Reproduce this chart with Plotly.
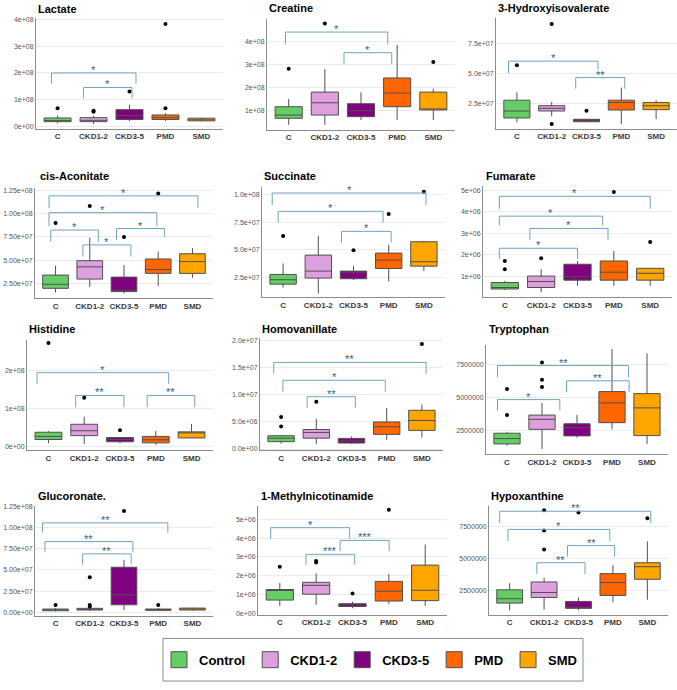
import plotly.graph_objects as go

# ---------------- data ----------------
groups = ["C", "CKD1-2", "CKD3-5", "PMD", "SMD"]
legend_names = ["Control", "CKD1-2", "CKD3-5", "PMD", "SMD"]
colors = ["#66CC66", "#DDA0DD", "#800080", "#FF6600", "#FFA500"]

metabolites = ["Lactate", "Creatine", "3-Hydroxyisovalerate",
               "cis-Aconitate", "Succinate", "Fumarate",
               "Histidine", "Homovanillate", "Tryptophan",
               "Glucoronate.", "1-Methylnicotinamide", "Hypoxanthine"]
units = [1e8, 1e8, 1e7, 1e7, 1e7, 1e6, 1e8, 1e6, 1e6, 1e7, 1e6, 1e6]

q1 = [[0.18, 0.18, 0.26, 0.26, 0.21],
      [0.67, 0.81, 0.74, 1.17, 1.03],
      [1.27, 1.85, 0.96, 1.93, 1.96],
      [2.00, 2.99, 1.65, 3.60, 3.60],
      [1.90, 2.45, 2.39, 3.32, 3.53],
      [0.42, 0.49, 0.83, 0.83, 0.83],
      [0.18, 0.28, 0.12, 0.09, 0.22],
      [1.35, 2.00, 1.10, 2.70, 3.43],
      [1.53, 2.62, 2.13, 3.12, 2.15],
      [0.19, 0.27, 0.89, 0.23, 0.27],
      [0.72, 1.03, 0.38, 0.67, 0.69],
      [1.49, 1.93, 1.08, 2.09, 3.35]]
median = [[0.22, 0.23, 0.41, 0.33, 0.25],
          [0.81, 1.34, 1.00, 1.76, 1.03],
          [1.85, 2.07, 1.05, 2.56, 2.29],
          [2.43, 4.30, 1.80, 4.01, 4.86],
          [2.30, 3.08, 2.99, 4.08, 3.93],
          [0.49, 0.77, 1.00, 1.20, 1.15],
          [0.26, 0.41, 0.18, 0.17, 0.36],
          [2.00, 3.06, 1.50, 4.10, 5.26],
          [1.93, 3.37, 2.75, 4.60, 4.23],
          [0.27, 0.35, 2.06, 0.31, 0.39],
          [1.28, 1.50, 0.50, 1.19, 1.24],
          [1.83, 2.32, 1.10, 3.09, 4.33]]
q3 = [[0.32, 0.33, 0.63, 0.43, 0.31],
      [1.17, 1.80, 1.30, 2.41, 1.80],
      [2.75, 2.29, 1.16, 2.75, 2.56],
      [3.42, 4.96, 3.20, 5.14, 5.70],
      [2.78, 4.53, 3.08, 4.71, 5.74],
      [0.72, 1.02, 1.57, 1.72, 1.38],
      [0.37, 0.58, 0.23, 0.26, 0.38],
      [2.45, 3.60, 1.96, 5.00, 7.15],
      [2.33, 3.69, 3.04, 5.45, 5.30],
      [0.39, 0.47, 5.32, 0.39, 0.50],
      [1.28, 1.66, 0.53, 1.71, 2.57],
      [2.53, 3.14, 1.62, 3.79, 4.64]]
lower = [[0.12, 0.10, 0.20, 0.20, 0.19],
         [0.39, 0.39, 0.60, 0.60, 0.60],
         [0.90, 1.40, 0.96, 0.77, 1.18],
         [1.55, 2.15, 1.44, 2.25, 3.13],
         [1.60, 1.06, 2.27, 2.14, 3.08],
         [0.37, 0.26, 0.57, 0.57, 0.57],
         [0.08, 0.06, 0.08, 0.04, 0.22],
         [1.00, 0.90, 0.97, 1.70, 2.14],
         [1.39, 1.14, 2.00, 2.62, 1.51],
         [0.10, 0.15, 0.27, 0.15, 0.20],
         [0.41, 0.47, 0.29, 0.52, 0.41],
         [0.93, 0.98, 0.93, 1.55, 1.75]]
upper = [[0.41, 0.40, 0.81, 0.50, 0.33],
         [1.50, 2.79, 1.79, 3.83, 1.95],
         [3.40, 2.60, 1.16, 3.80, 2.75],
         [4.44, 7.43, 4.50, 5.95, 6.30],
         [3.78, 6.25, 3.53, 5.47, 5.83],
         [0.80, 1.34, 1.72, 2.18, 1.38],
         [0.40, 0.78, 0.23, 0.40, 0.59],
         [2.55, 5.60, 2.30, 7.58, 8.20],
         [2.43, 4.60, 3.69, 8.64, 8.32],
         [0.50, 0.55, 6.20, 0.50, 0.55],
         [1.62, 2.14, 0.64, 2.10, 3.66],
         [3.04, 3.48, 1.93, 4.46, 6.31]]
outliers = [
    [[0.68], [0.55, 0.59], [1.31], [0.68, 3.83], []],
    [[2.81], [4.76], [], [], [3.10]],
    [[5.65], [9.10, 0.77], [1.87], [], []],
    [[9.00], [10.8], [7.50], [12.15], []],
    [[6.25], [], [4.98], [8.25], [10.27]],
    [[1.72, 1.34], [1.85], [], [4.92], [2.60]],
    [[2.72], [1.28], [0.42], [], []],
    [[5.93, 4.16], [8.75], [], [], [19.4]],
    [[5.64, 3.69], [7.62, 6.34, 5.79], [], [], []],
    [[0.85], [0.85, 0.70, 4.15], [11.96], [0.85], []],
    [[2.48], [2.79, 2.71], [1.07], [5.50], []],
    [[], [5.67, 7.16, 8.74], [8.56], [], [8.12]],
]
# brackets: (x start, x end, bar height, left tip, right tip, label)
brackets = [
    [(-0.17, 2.18, 2.00, 1.60, 1.60, "*"), (0.72, 2.07, 1.46, 1.05, 1.05, "*")],
    [(-0.09, 2.74, 4.39, 3.86, 3.86, "*"), (1.53, 2.85, 3.50, 3.00, 3.00, "*")],
    [(-0.24, 2.33, 6.00, 5.00, 5.30, "*"), (1.69, 3.10, 4.63, 3.70, 3.70, "**")],
    [(-0.19, 4.16, 11.9, 10.6, 10.6, "*"), (-0.19, 2.96, 10.1, 8.66, 8.66, "*"),
     (-0.14, 1.25, 8.24, 7.00, 7.00, "*"), (1.78, 3.18, 8.40, 7.18, 7.50, "*"),
     (0.80, 2.20, 6.65, 5.40, 5.40, "*")],
    [(-0.31, 4.06, 10.15, 9.06, 9.06, "*"), (-0.14, 2.84, 8.49, 7.49, 7.49, "*"),
     (1.66, 3.07, 6.68, 5.68, 5.68, "*")],
    [(-0.15, 4.00, 4.72, 4.14, 4.14, "*"), (-0.15, 2.69, 3.80, 3.37, 3.37, "*"),
     (0.69, 2.84, 3.23, 2.68, 2.68, "*"), (-0.15, 2.00, 2.31, 1.82, 1.82, "*")],
    [(-0.32, 3.36, 1.94, 1.65, 1.65, "*"), (0.76, 2.11, 1.34, 1.03, 1.03, "**"),
     (2.76, 4.09, 1.34, 1.03, 1.03, "**")],
    [(-0.21, 4.12, 16.0, 13.9, 13.9, "**"), (0.05, 2.96, 12.7, 10.6, 10.6, "*"),
     (0.74, 2.11, 9.66, 7.65, 7.65, "**")],
    [(-0.27, 3.47, 7.40, 6.53, 6.53, "**"), (1.70, 3.49, 6.26, 5.40, 5.40, "**"),
     (-0.27, 1.51, 4.85, 4.03, 4.03, "*")],
    [(-0.38, 3.28, 10.56, 9.40, 9.40, "**"), (-0.31, 2.26, 8.35, 7.10, 7.10, "**"),
     (0.79, 2.21, 6.90, 5.63, 5.63, "**")],
    [(-0.25, 1.92, 4.55, 3.97, 3.97, "*"), (1.66, 3.01, 3.88, 3.31, 3.31, "***"),
     (0.72, 2.06, 3.14, 2.59, 2.59, "***")],
    [(-0.29, 4.10, 8.66, 7.73, 7.73, "**"), (-0.05, 2.91, 7.24, 6.34, 6.34, "*"),
     (1.68, 3.05, 5.98, 5.10, 5.10, "**"), (0.79, 2.19, 4.64, 3.76, 3.76, "**")],
]
y_ranges = [(-0.09, 4.06), (0.17, 4.96), (0.36, 9.6), (0.92, 12.7),
            (0.70, 10.66), (0.03, 5.18), (-0.10, 2.80), (-0.2, 20.5),
            (0.77, 8.94), (-0.39, 12.6), (-0.05, 5.72), (0.59, 9.1)]
tick_vals = [[0, 1, 2, 3, 4], [1, 2, 3, 4], [2.5, 5.0, 7.5],
             [2.5, 5.0, 7.5, 10.0, 12.5], [2.5, 5.0, 7.5, 10.0], [1, 2, 3, 4, 5],
             [0, 1, 2], [0, 5, 10, 15, 20], [2.5, 5.0, 7.5],
             [0, 2.5, 5.0, 7.5, 10.0, 12.5], [0, 1, 2, 3, 4, 5], [2.5, 5.0, 7.5]]
tick_text = [["0e+00", "1e+08", "2e+08", "3e+08", "4e+08"],
             ["1e+08", "2e+08", "3e+08", "4e+08"],
             ["2.5e+07", "5.0e+07", "7.5e+07"],
             ["2.50e+07", "5.00e+07", "7.50e+07", "1.00e+08", "1.25e+08"],
             ["2.5e+07", "5.0e+07", "7.5e+07", "1.0e+08"],
             ["1e+06", "2e+06", "3e+06", "4e+06", "5e+06"],
             ["0e+00", "1e+08", "2e+08"],
             ["0.0e+00", "5.0e+06", "1.0e+07", "1.5e+07", "2.0e+07"],
             ["2500000", "5000000", "7500000"],
             ["0.00e+00", "2.50e+07", "5.00e+07", "7.50e+07", "1.00e+08", "1.25e+08"],
             ["0e+00", "1e+06", "2e+06", "3e+06", "4e+06", "5e+06"],
             ["2500000", "5000000", "7500000"]]

# ---------------- layout constants ----------------
W, H = 677, 690
FONT = "Liberation Sans, Arial, sans-serif"
# panel plot areas in pixels: left, right, top, bottom
panel_px = [(36, 223, 15, 127), (267, 455, 16, 128), (496, 677, 15, 127),
            (35, 213, 187, 298), (262, 445, 186, 297), (483, 672, 185, 297),
            (27, 213, 340, 451), (260, 443, 338, 451), (486, 668, 345, 455),
            (35, 213, 507, 618), (258, 447, 507, 617), (489, 668, 507, 617)]
title_px = [(36, 6), (267, 5), (496, 5), (38, 175), (262, 175), (484, 175),
            (27, 329), (260, 329), (487, 329), (36, 497), (259, 497), (489, 497)]
legend_box_px = (163, 641, 583, 684)
BRACKET_COLOR = "#6FA3C0"
STAR_COLOR = "#2A5F8C"

fig = go.Figure()
layout = dict(width=W, height=H, margin=dict(l=0, r=0, t=0, b=0),
              paper_bgcolor="white", plot_bgcolor="white",
              showlegend=True, annotations=[], shapes=[])

for i in range(12):
    ax = "" if i == 0 else str(i + 1)
    xr, yr = "x" + ax, "y" + ax
    u = units[i]
    for g in range(5):
        fig.add_trace(go.Box(
            x=[g], q1=[q1[i][g] * u], median=[median[i][g] * u], q3=[q3[i][g] * u],
            lowerfence=[lower[i][g] * u], upperfence=[upper[i][g] * u],
            width=0.75, fillcolor=colors[g], line=dict(color="#505050", width=1),
            whiskerwidth=0, boxpoints=False, name=groups[g], showlegend=False,
            xaxis=xr, yaxis=yr, hoverinfo="skip"))
    ox, oy = [], []
    for g in range(5):
        for v in outliers[i][g]:
            ox.append(g)
            oy.append(v * u)
    fig.add_trace(go.Scatter(x=ox, y=oy, mode="markers", showlegend=False,
                             marker=dict(color="black", size=4),
                             xaxis=xr, yaxis=yr, cliponaxis=False, hoverinfo="skip"))
    for (x1, x2, yb, tl, tr, lab) in brackets[i]:
        fig.add_trace(go.Scatter(x=[x1, x1, x2, x2], y=[tl * u, yb * u, yb * u, tr * u],
                                 mode="lines", line=dict(color=BRACKET_COLOR, width=1),
                                 showlegend=False, xaxis=xr, yaxis=yr, hoverinfo="skip"))
        layout["annotations"].append(dict(
            x=(x1 + x2) / 2, y=yb * u, xref=xr, yref=yr, text=lab, showarrow=False,
            yanchor="bottom", yshift=-5, font=dict(family=FONT, size=11, color=STAR_COLOR)))
    l, r, t, b = panel_px[i]
    layout["xaxis" + ax] = dict(
        domain=[l / W, r / W], anchor=yr, range=[-0.6, 4.6],
        tickvals=list(range(5)), ticktext=groups, showgrid=False, zeroline=False,
        showline=True, linecolor="#8C8C8C", linewidth=1, ticks="",
        tickfont=dict(family=FONT, size=8, color="#3A3A3A", weight="bold"),
        fixedrange=True)
    layout["yaxis" + ax] = dict(
        domain=[1 - b / H, 1 - t / H], anchor=xr,
        range=[y_ranges[i][0] * u, y_ranges[i][1] * u],
        tickvals=[v * u for v in tick_vals[i]], ticktext=tick_text[i],
        showgrid=True, gridcolor="#EBEBEB", gridwidth=1, zeroline=False,
        showline=True, linecolor="#8C8C8C", linewidth=1, ticks="",
        tickfont=dict(family=FONT, size=7, color="#555555"), fixedrange=True)
    tx, ty = title_px[i]
    layout["annotations"].append(dict(
        x=tx / W, y=1 - ty / H, xref="paper", yref="paper", text=metabolites[i],
        showarrow=False, xanchor="left", yanchor="middle",
        font=dict(family=FONT, size=11, color="black", weight="bold")))

# legend entries
for g in range(5):
    fig.add_trace(go.Scatter(x=[None], y=[None], mode="markers", name=legend_names[g],
                             marker=dict(symbol="square", size=16, color=colors[g],
                                         line=dict(color="#505050", width=1)),
                             showlegend=True))

lx0, ly0, lx1, ly1 = legend_box_px
layout["shapes"].append(dict(type="rect", xref="paper", yref="paper",
                             x0=lx0 / W, x1=lx1 / W, y0=1 - ly1 / H, y1=1 - ly0 / H,
                             line=dict(color="#8C8C8C", width=1), fillcolor="rgba(0,0,0,0)"))
layout["legend"] = dict(orientation="h", x=(lx0 - 4) / W, y=1 - (ly0 + ly1) / 2 / H,
                        xanchor="left", yanchor="middle", borderwidth=0,
                        bgcolor="rgba(0,0,0,0)",
                        font=dict(family=FONT, size=13, color="black", weight="bold"),
                        itemclick=False, itemdoubleclick=False)
fig.update_layout(**layout)
fig.write_html("out.html")
